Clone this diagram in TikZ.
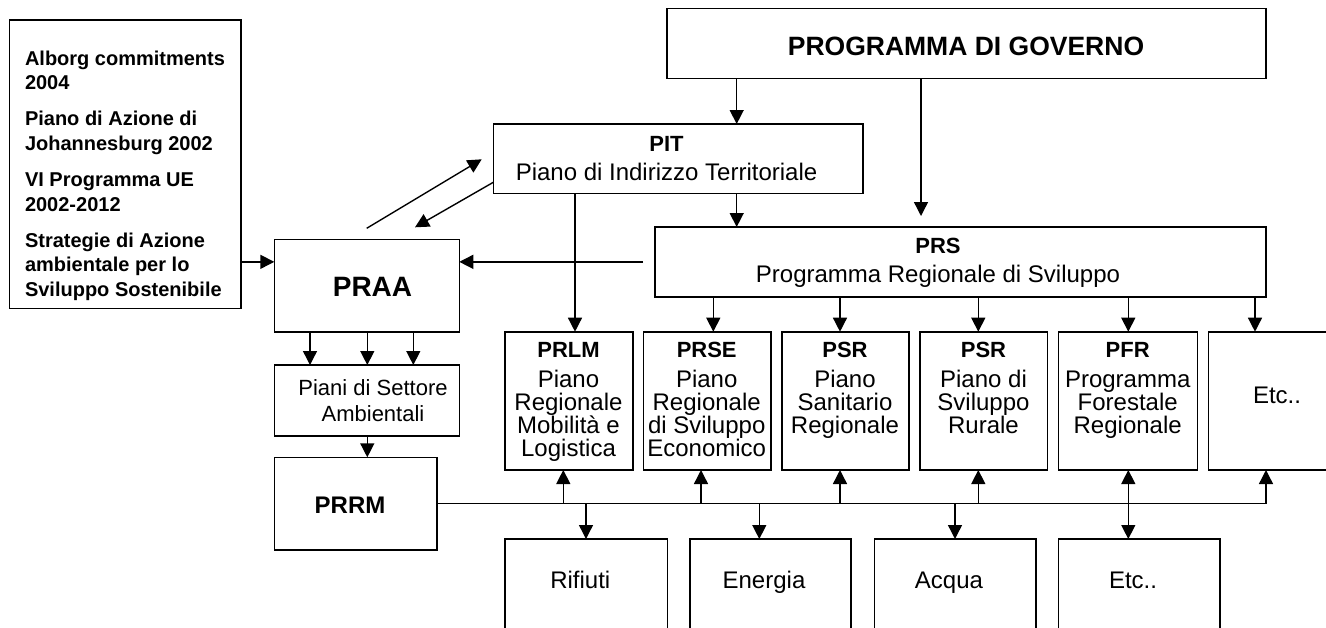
\documentclass[tikz,border=0pt]{standalone}
\usepackage{fontspec}
\setmainfont{Liberation Sans}
\usetikzlibrary{arrows.meta}
\newcommand\cstack[1]{\vtop{\halign{\hfil##\hfil\cr#1\crcr}}}
\newcommand\lstack[1]{\vtop{\halign{##\hfil\cr#1\crcr}}}
\newcommand\ttl[1]{{\fontsize{22}{23.3}\selectfont\bfseries #1}}
\begin{document}
\begin{tikzpicture}[x=1pt,y=-1pt,
  box/.style={draw, line width=1.6pt, inner sep=0pt, outer sep=0pt, anchor=north west},
  lbl/.style={inner sep=0pt, outer sep=0pt, anchor=base, font=\fontsize{24}{23.3}\selectfont},
  con/.style={line width=1.4pt},
  arr/.style={con, -{Triangle[length=14pt,width=14pt]}},
  darr/.style={con, {Triangle[length=14pt,width=14pt]}-{Triangle[length=14pt,width=14pt]}}]
\useasboundingbox (0,0) rectangle (1326,627);
\clip (0,0) rectangle (1326,627);
% boxes
\node[box, minimum width=231.4pt, minimum height=288.3pt] (src) at (9.3,20) {};
\node[box, minimum width=185pt, minimum height=92.4pt] (PRAA) at (274.3,239.3) {};
\node[box, minimum width=185pt, minimum height=70.7pt] (Piani) at (274.3,365) {};
\node[box, minimum width=162.4pt, minimum height=92.7pt] (PRRM) at (274.3,457.3) {};
\node[box, minimum width=369.4pt, minimum height=69.3pt] (PIT) at (493.3,124) {};
\node[box, minimum width=599.3pt, minimum height=70pt] (GOV) at (666.7,8.3) {};
\node[box, minimum width=611pt, minimum height=69.7pt] (PRS) at (655,227) {};
\node[box, minimum width=127.7pt, minimum height=138.3pt] (PRLM) at (505,331.7) {};
\node[box, minimum width=127.4pt, minimum height=138.3pt] (PRSE) at (643.3,331.7) {};
\node[box, minimum width=127.3pt, minimum height=138.3pt] (PSRa) at (781.7,331.7) {};
\node[box, minimum width=127.3pt, minimum height=138.3pt] (PSRb) at (920,331.7) {};
\node[box, minimum width=139pt, minimum height=138.3pt] (PFR) at (1058.3,331.7) {};
\node[box, minimum width=140pt, minimum height=138.3pt] (ETCa) at (1208.3,331.7) {};
\node[box, minimum width=162.3pt, minimum height=100pt] (RIF) at (505,539) {};
\node[box, minimum width=161pt, minimum height=100pt] (ENE) at (690,539) {};
\node[box, minimum width=161.4pt, minimum height=100pt] (ACQ) at (874.3,539) {};
\node[box, minimum width=161.7pt, minimum height=100pt] (ETCb) at (1058.3,539) {};
% texts
\node[lbl, anchor=base west, font=\fontsize{20}{24.7}\selectfont\bfseries] (srct) at (25,65)
 {\lstack{Alborg commitments\cr 2004\cr\noalign{\vskip 11.3pt}Piano di Azione di\cr Johannesburg 2002\cr\noalign{\vskip 11.3pt}VI Programma UE\cr 2002-2012\cr\noalign{\vskip 11.3pt}Strategie di Azione\cr ambientale per lo\cr Sviluppo Sostenibile}};
\node[lbl, font=\fontsize{26.5}{30}\selectfont\bfseries] (govt) at (966,55) {PROGRAMMA DI GOVERNO};
\node[lbl] (pitt) at (666.5,151) {\cstack{\ttl{PIT}\cr\noalign{\vskip 5.7pt}Piano di Indirizzo Territoriale}};
\node[lbl] (prst) at (938,253.3) {\cstack{\ttl{PRS}\cr\noalign{\vskip 5.9pt}Programma Regionale di Sviluppo}};
\node[lbl, font=\fontsize{28}{30}\selectfont\bfseries] (praat) at (372.5,296.7) {PRAA};
\node[lbl, font=\fontsize{22}{26}\selectfont] (pianit) at (373,395) {\cstack{Piani di Settore\cr Ambientali}};
\node[lbl, font=\fontsize{24}{26}\selectfont\bfseries] (prrmt) at (350,513.3) {PRRM};
\node[lbl] (prlmt) at (568.5,357.3) {\cstack{\ttl{PRLM}\cr\noalign{\vskip 6.4pt}Piano\cr Regionale\cr Mobilità e\cr Logistica}};
\node[lbl] (prset) at (706.7,357.3) {\cstack{\ttl{PRSE}\cr\noalign{\vskip 6.4pt}Piano\cr Regionale\cr di Sviluppo\cr Economico}};
\node[lbl] (psrat) at (845,357.3) {\cstack{\ttl{PSR}\cr\noalign{\vskip 6.4pt}Piano\cr Sanitario\cr Regionale}};
\node[lbl] (psrbt) at (983.5,357.3) {\cstack{\ttl{PSR}\cr\noalign{\vskip 6.4pt}Piano di\cr Sviluppo\cr Rurale}};
\node[lbl] (pfrt) at (1127.7,357.3) {\cstack{\ttl{PFR}\cr\noalign{\vskip 6.4pt}Programma\cr Forestale\cr Regionale}};
\node[lbl] (etcat) at (1277,403.3) {Etc..};
\node[lbl] (rift) at (580.3,588.3) {Rifiuti};
\node[lbl] (enet) at (764,588.3) {Energia};
\node[lbl] (acqt) at (949,588.3) {Acqua};
\node[lbl] (etcbt) at (1133,588.3) {Etc..};
% coordinates
\coordinate (g1) at ([xshift=70pt]GOV.south west);
\coordinate (g2) at ([xshift=254.3pt]GOV.south west);
\coordinate (i1) at ([xshift=243.4pt]PIT.south west);
\coordinate (i2) at ([xshift=81.7pt]PIT.south west);
\coordinate (d1s) at (366.7,228.3);
\coordinate (d1e) at (481.7,159.3);
\coordinate (d2e) at (415,227.3);
\coordinate (p1) at ([xshift=35.7pt]PRAA.south west);
\coordinate (p2) at ([xshift=93pt]PRAA.south west);
\coordinate (p3) at ([xshift=139pt]PRAA.south west);
\coordinate (q1) at ([xshift=93pt]Piani.south west);
\coordinate (tPRSE) at ([xshift=70pt]PRSE.north west);
\coordinate (tPSRa) at ([xshift=58.3pt]PSRa.north west);
\coordinate (tPSRb) at ([xshift=58.3pt]PSRb.north west);
\coordinate (tPFR) at ([xshift=70pt]PFR.north west);
\coordinate (tETCa) at ([xshift=46.7pt]ETCa.north west);
\coordinate (bPRLM) at ([xshift=58.3pt]PRLM.south west);
\coordinate (bPRSE) at ([xshift=57.7pt]PRSE.south west);
\coordinate (bPSRa) at ([xshift=58.3pt]PSRa.south west);
\coordinate (bPSRb) at ([xshift=58.3pt]PSRb.south west);
\coordinate (bPFR) at ([xshift=70pt]PFR.south west);
\coordinate (bETCa) at ([xshift=57.7pt]ETCa.south west);
\coordinate (tRIF) at ([xshift=81pt]RIF.north west);
\coordinate (tENE) at ([xshift=69.3pt]ENE.north west);
\coordinate (tACQ) at ([xshift=80.7pt]ACQ.north west);
\coordinate (tETCb) at ([xshift=70pt]ETCb.north west);
% connectors
\draw[arr] (src.east |- PRS.west) -- (PRAA.west |- PRS.west);
\draw[arr] ([xshift=-12pt]PRS.west) -- (PRAA.east |- PRS.west);
\draw[arr] (d1s) -- (d1e);
\draw[arr] ([yshift=11pt]PIT.south west) -- (d2e);
\draw[arr] (g1) -- (g1 |- PIT.north);
\draw[arr, shorten >=11pt] (g2) -- (g2 |- PRS.north);
\draw[arr] (i1) -- (i1 |- PRS.north);
\draw[arr] (i2) -- (i2 |- PRLM.north);
\foreach \c in {tPRSE,tPSRa,tPSRb,tPFR,tETCa} {\draw[arr] (PRS.south -| \c) -- (\c);}
\foreach \c in {p1,p2,p3} {\draw[arr] (\c) -- (\c |- Piani.north);}
\draw[arr] (q1) -- (q1 |- PRRM.north);
\draw[arr] (PRRM.east) -- (PRRM.east -| bETCa) -- (bETCa);
\foreach \c in {bPRLM,bPRSE,bPSRa,bPSRb} {\draw[arr] (PRRM.east -| \c) -- (\c);}
\foreach \c in {tRIF,tENE,tACQ} {\draw[arr] (PRRM.east -| \c) -- (\c);}
\draw[darr] (bPFR) -- (tETCb);
\end{tikzpicture}
\end{document}
